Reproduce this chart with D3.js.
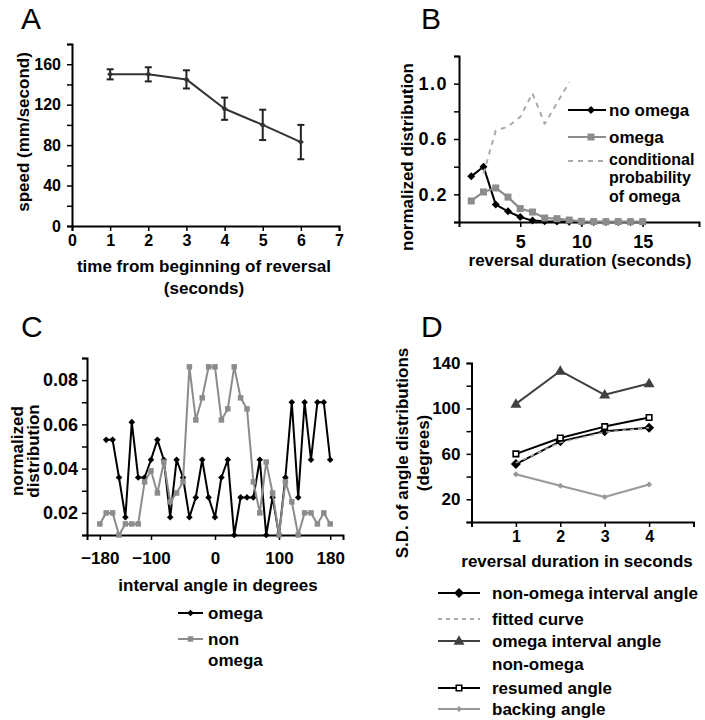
<!DOCTYPE html>
<html><head><meta charset="utf-8">
<script src="https://cdn.jsdelivr.net/npm/d3@7"></script>
<style>
body{margin:0;background:#fff}
svg text{font-family:"Liberation Sans",Arial,Helvetica,sans-serif}
</style>
</head><body>
<svg id="chart" width="705" height="720"></svg>
<script>
// ---------- Panel A ----------
const aTime = [1, 2, 3, 4, 5, 6];
const aSpeed = [150, 150, 145, 116, 100, 83];
const aErr = [5, 7, 9, 11, 15, 17];
const aXTicks = [0, 1, 2, 3, 4, 5, 6, 7];
const aYTicks = [0, 40, 80, 120, 160];
const aYMinor = [0, 20, 40, 60, 80, 100, 120, 140, 160, 180];

// ---------- Panel B ----------
const bDuration = [1, 2, 3, 4, 5, 6, 7, 8, 9, 10, 11, 12, 13, 14, 15];
const bNoOmega = [0.33, 0.40, 0.126, 0.077, 0.036, 0.01, 0.005, 0.003, 0.001, 0, 0, 0, 0, 0, 0];
const bOmega = [0.152, 0.217, 0.246, 0.18, 0.097, 0.072, 0.029, 0.024, 0.014, 0.005, 0.003, 0.002, 0.003, 0.002, 0.002];
const bCondDuration = [2, 3, 4, 5, 6, 7, 8, 9];
const bCondProb = [0.35, 0.66, 0.69, 0.76, 0.93, 0.71, 0.86, 1.01];
const bXTicks = [5, 10, 15];
const bYTicks = [0.2, 0.6, 1.0];
const bYMinor = [0, 0.2, 0.4, 0.6, 0.8, 1.0, 1.2];

// ---------- Panel C ----------
const cAngleOmega = [-170, -160, -150, -140, -130, -120, -110, -100, -90, -80, -70, -60, -50, -40, -30, -20, -10, 0, 10, 20, 30, 40, 50, 60, 70, 80, 90, 100, 110, 120, 130, 140, 150, 160, 170, 180];
const cOmega = [0.053, 0.053, 0.036, 0.018, 0.061, 0.036, 0.036, 0.044, 0.053, 0.044, 0.018, 0.044, 0.036, 0.018, 0.027, 0.044, 0.027, 0.018, 0.036, 0.044, 0.01, 0.027, 0.027, 0.027, 0.044, 0.01, 0.027, 0.01, 0.036, 0.07, 0.027, 0.07, 0.044, 0.07, 0.07, 0.044];
const cAngleNon = [-180, -170, -160, -150, -140, -130, -120, -110, -100, -90, -80, -70, -60, -50, -40, -30, -20, -10, 0, 10, 20, 30, 40, 50, 60, 70, 80, 90, 100, 110, 120, 130, 140, 150, 160, 170, 180];
const cNonOmega = [0.015, 0.02, 0.02, 0.01, 0.015, 0.015, 0.015, 0.034, 0.039, 0.029, 0.043, 0.025, 0.029, 0.034, 0.086, 0.062, 0.072, 0.086, 0.086, 0.062, 0.067, 0.086, 0.072, 0.067, 0.034, 0.02, 0.043, 0.029, 0.01, 0.034, 0.025, 0.01, 0.02, 0.02, 0.015, 0.02, 0.015];
const cXTicks = [-180, -100, 0, 100, 180];
const cYTicks = [0.02, 0.04, 0.06, 0.08];
const cYMinor = [0.01, 0.02, 0.03, 0.04, 0.05, 0.06, 0.07, 0.08, 0.09];

// ---------- Panel D ----------
const dDuration = [1, 2, 3, 4];
const dNonOmega = [51, 71, 80, 83];
const dFitted = [52, 70, 79, 83];
const dOmega = [104, 133, 112, 122];
const dResumed = [60, 74, 84, 92];
const dBacking = [42, 32, 22, 33];
const dXTicks = [1, 2, 3, 4];
const dXMinor = [0, 1, 2, 3, 4, 5];
const dYTicks = [20, 60, 100, 140];
const dYMinor = [0, 20, 40, 60, 80, 100, 120, 140];

const svg = d3.select("#chart");
const FONT = 16;

function txt(g, x, y, s, o = {}) {
  const t = g.append("text").attr("x", x).attr("y", y).text(s)
    .attr("font-size", o.size || 17).attr("font-weight", o.weight || "bold")
    .attr("text-anchor", o.anchor || "start").attr("fill", o.fill || "#000");
  if (o.rotate) t.attr("transform", `rotate(${o.rotate},${x},${y})`);
  if (o.base) t.attr("dominant-baseline", o.base);
  return t;
}
function diamondPath(r) { return `M0,${-r}L${r},0L0,${r}L${-r},0Z`; }
function squarePath(s) { const h = s / 2; return `M${-h},${-h}H${h}V${h}H${-h}Z`; }
function trianglePath(s) { const h = s * 0.866; return `M0,${-h * 0.6}L${s / 2},${h * 0.4}L${-s / 2},${h * 0.4}Z`; }

function styleAxis(ax, labelSize, spacing) {
  ax.select(".domain").attr("stroke", "#000").attr("stroke-width", 2);
  ax.selectAll(".tick line").attr("stroke", "#000").attr("stroke-width", 1.5);
  ax.selectAll(".tick text").attr("font-size", labelSize || FONT).attr("font-weight", "bold")
    .attr("fill", "#000").attr("font-family", '"Liberation Sans",Arial,sans-serif')
    .attr("letter-spacing", spacing || null);
}
function fmtOnly(list, f) { return d => list.some(v => Math.abs(v - d) < 1e-9) ? (f ? f(d) : d) : ""; }

function series(g, xs, ys, x, y, o) {
  const pts = xs.map((v, i) => [x(v), y(ys[i])]);
  g.append("path").attr("d", d3.line()(pts)).attr("fill", "none")
    .attr("stroke", o.color).attr("stroke-width", o.width || 2)
    .attr("stroke-dasharray", o.dash || null).attr("stroke-linejoin", "round");
  if (o.marker) {
    g.selectAll(null).data(pts).enter().append("path")
      .attr("d", o.marker).attr("transform", d => `translate(${d[0]},${d[1]})`)
      .attr("fill", o.fill || o.color).attr("stroke", o.mstroke || "none")
      .attr("stroke-width", o.mstrokeW || 0);
  }
}

// ================= Panel A =================
{
  const g = svg.append("g");
  const x = d3.scaleLinear().domain([0, 7]).range([72, 339]);
  const y = d3.scaleLinear().domain([0, 180]).range([226, 44]);
  txt(g, 21, 29, "A", { size: 30, weight: "normal" });
  const ay = g.append("g").attr("transform", `translate(${x(0)},0)`)
    .call(d3.axisLeft(y).tickValues(aYMinor).tickFormat(fmtOnly(aYTicks)).tickSizeOuter(0).tickSize(5).tickPadding(6));
  styleAxis(ay);
  const axx = g.append("g").attr("transform", `translate(0,${y(0)})`)
    .call(d3.axisBottom(x).tickValues(aXTicks).tickFormat(d3.format("d")).tickSizeOuter(0).tickSize(5).tickPadding(4));
  styleAxis(axx);
  aTime.forEach((t, i) => {
    const cx = x(t), y1 = y(aSpeed[i] + aErr[i]), y2 = y(aSpeed[i] - aErr[i]);
    g.append("line").attr("x1", cx).attr("x2", cx).attr("y1", y1).attr("y2", y2).attr("stroke", "#222").attr("stroke-width", 2);
    [y1, y2].forEach(yy => g.append("line").attr("x1", cx - 3.5).attr("x2", cx + 3.5).attr("y1", yy).attr("y2", yy).attr("stroke", "#222").attr("stroke-width", 2));
  });
  series(g, aTime, aSpeed, x, y, { color: "#333", width: 2, marker: diamondPath(3) });
  txt(g, 23, 132, "speed (mm/second)", { rotate: -90, anchor: "middle", base: "central" });
  txt(g, 204, 272, "time from beginning of reversal", { anchor: "middle" });
  txt(g, 204, 294, "(seconds)", { anchor: "middle" });
}

// ================= Panel B =================
{
  const g = svg.append("g");
  const x = d3.scaleLinear().domain([0, 19.6]).range([459, 699]);
  const y = d3.scaleLinear().domain([0, 1.2]).range([222, 56]);
  txt(g, 421, 29, "B", { size: 30, weight: "normal" });
  const ay = g.append("g").attr("transform", `translate(${x(0)},0)`)
    .call(d3.axisLeft(y).tickValues(bYMinor).tickFormat(fmtOnly(bYTicks, d3.format(".1f"))).tickSizeOuter(0).tickSize(5).tickPadding(6));
  styleAxis(ay, 18, "1.5px");
  const axx = g.append("g").attr("transform", `translate(0,${y(0)})`)
    .call(d3.axisBottom(x).tickValues(bXTicks).tickSizeOuter(0).tickSize(5).tickPadding(8));
  styleAxis(axx, 18);
  series(g, bDuration, bNoOmega, x, y, { color: "#000", width: 2, marker: diamondPath(4) });
  series(g, bDuration, bOmega, x, y, { color: "#8c8c8c", width: 2.2, marker: squarePath(7) });
  series(g, bCondDuration, bCondProb, x, y, { color: "#aaa", width: 2, dash: "5,5" });
  const lx1 = 568, lx2 = 606;
  g.append("line").attr("x1", lx1).attr("x2", lx2).attr("y1", 110).attr("y2", 110).attr("stroke", "#000").attr("stroke-width", 2);
  g.append("path").attr("d", diamondPath(4)).attr("transform", `translate(${(lx1 + lx2) / 2 + 4},110)`).attr("fill", "#000");
  g.append("line").attr("x1", lx1).attr("x2", lx2).attr("y1", 137).attr("y2", 137).attr("stroke", "#8c8c8c").attr("stroke-width", 2.2);
  g.append("path").attr("d", squarePath(7)).attr("transform", `translate(${(lx1 + lx2) / 2 + 4},137)`).attr("fill", "#8c8c8c");
  g.append("line").attr("x1", lx1).attr("x2", lx2).attr("y1", 161).attr("y2", 161).attr("stroke", "#aaa").attr("stroke-width", 2).attr("stroke-dasharray", "5,5");
  txt(g, 609, 116, "no omega");
  txt(g, 609, 143, "omega");
  txt(g, 609, 165, "conditional", { size: 16 });
  txt(g, 609, 183, "probability", { size: 16 });
  txt(g, 609, 201.5, "of omega", { size: 16 });
  txt(g, 407, 157, "normalized distribution", { rotate: -90, anchor: "middle", base: "central" });
  txt(g, 580, 266, "reversal duration (seconds)", { anchor: "middle" });
}

// ================= Panel C =================
{
  const g = svg.append("g");
  const x = d3.scaleLinear().domain([-200, 200]).range([87, 343]);
  const y = d3.scaleLinear().domain([0.01, 0.09]).range([535, 358]);
  txt(g, 21, 337, "C", { size: 30, weight: "normal" });
  const ay = g.append("g").attr("transform", `translate(${x(-200)},0)`)
    .call(d3.axisLeft(y).tickValues(cYMinor).tickFormat(fmtOnly(cYTicks, d3.format(".2f"))).tickSizeOuter(0).tickSize(5).tickPadding(4));
  styleAxis(ay, 18);
  const axx = g.append("g").attr("transform", `translate(0,${y(0.01)})`)
    .call(d3.axisBottom(x).tickValues(cXTicks).tickSizeOuter(0).tickSize(5).tickPadding(12));
  styleAxis(axx, 17);
  series(g, cAngleOmega, cOmega, x, y, { color: "#000", width: 2, marker: diamondPath(3.3) });
  series(g, cAngleNon, cNonOmega, x, y, { color: "#8c8c8c", width: 2, marker: squarePath(5.5) });
  txt(g, 17, 451, "normalized", { rotate: -90, anchor: "middle", base: "central" });
  txt(g, 33, 451, "distribution", { rotate: -90, anchor: "middle", base: "central" });
  txt(g, 218, 591, "interval angle in degrees", { anchor: "middle" });
  g.append("line").attr("x1", 178).attr("x2", 203).attr("y1", 613).attr("y2", 613).attr("stroke", "#000").attr("stroke-width", 2);
  g.append("path").attr("d", diamondPath(3.3)).attr("transform", "translate(190.5,613)").attr("fill", "#000");
  g.append("line").attr("x1", 178).attr("x2", 203).attr("y1", 639).attr("y2", 639).attr("stroke", "#8c8c8c").attr("stroke-width", 2);
  g.append("path").attr("d", squarePath(5.5)).attr("transform", "translate(190.5,639)").attr("fill", "#8c8c8c");
  txt(g, 208, 619, "omega");
  txt(g, 208, 645, "non");
  txt(g, 208, 666, "omega");
}

// ================= Panel D =================
{
  const g = svg.append("g");
  const x = d3.scaleLinear().domain([0, 5]).range([471.5, 693.5]);
  const y = d3.scaleLinear().domain([0, 140]).range([522, 363]);
  txt(g, 421, 337, "D", { size: 30, weight: "normal" });
  const ay = g.append("g").attr("transform", `translate(${x(0)},0)`)
    .call(d3.axisLeft(y).tickValues(dYMinor).tickFormat(fmtOnly(dYTicks)).tickSizeOuter(0).tickSize(5).tickPadding(6));
  styleAxis(ay, 17);
  const axx = g.append("g").attr("transform", `translate(0,${y(0)})`)
    .call(d3.axisBottom(x).tickValues(dXMinor).tickFormat(fmtOnly(dXTicks)).tickSizeOuter(0).tickSize(5).tickPadding(4));
  styleAxis(axx, 16);
  series(g, dDuration, dNonOmega, x, y, { color: "#000", width: 2, marker: diamondPath(5) });
  series(g, dDuration, dFitted, x, y, { color: "#aaa", width: 1.5, dash: "4,4" });
  series(g, dDuration, dOmega, x, y, { color: "#404040", width: 2, marker: trianglePath(11) });
  series(g, dDuration, dResumed, x, y, { color: "#000", width: 2, marker: squarePath(5.5), fill: "#fff", mstroke: "#000", mstrokeW: 1.6 });
  series(g, dDuration, dBacking, x, y, { color: "#999", width: 2, marker: diamondPath(3) });
  txt(g, 402, 453, "S.D. of angle distributions", { rotate: -90, anchor: "middle", base: "central" });
  txt(g, 423, 453, "(degrees)", { rotate: -90, anchor: "middle", base: "central" });
  txt(g, 577, 567, "reversal duration in seconds", { anchor: "middle" });
  const L1 = 438, L2 = 480, LM = 459, TX = 492;
  const leg = [
    { y: 593, color: "#000", marker: diamondPath(5), label: "non-omega interval angle" },
    { y: 619, color: "#aaa", dash: "4,4", label: "fitted curve" },
    { y: 641, color: "#404040", marker: trianglePath(11), label: "omega interval angle" },
    { y: 664, label: "non-omega", noLine: true },
    { y: 688, color: "#000", marker: squarePath(5.5), fill: "#fff", mstroke: "#000", label: "resumed angle" },
    { y: 709, color: "#999", marker: diamondPath(3), label: "backing angle" }
  ];
  leg.forEach(e => {
    if (!e.noLine) {
      g.append("line").attr("x1", L1).attr("x2", L2).attr("y1", e.y).attr("y2", e.y)
        .attr("stroke", e.color).attr("stroke-width", 2).attr("stroke-dasharray", e.dash || null);
      if (e.marker) g.append("path").attr("d", e.marker).attr("transform", `translate(${LM},${e.y})`)
        .attr("fill", e.fill || e.color).attr("stroke", e.mstroke || "none").attr("stroke-width", e.mstroke ? 1.6 : 0);
    }
    txt(g, TX, e.y + 6, e.label);
  });
}
</script>
</body></html>
